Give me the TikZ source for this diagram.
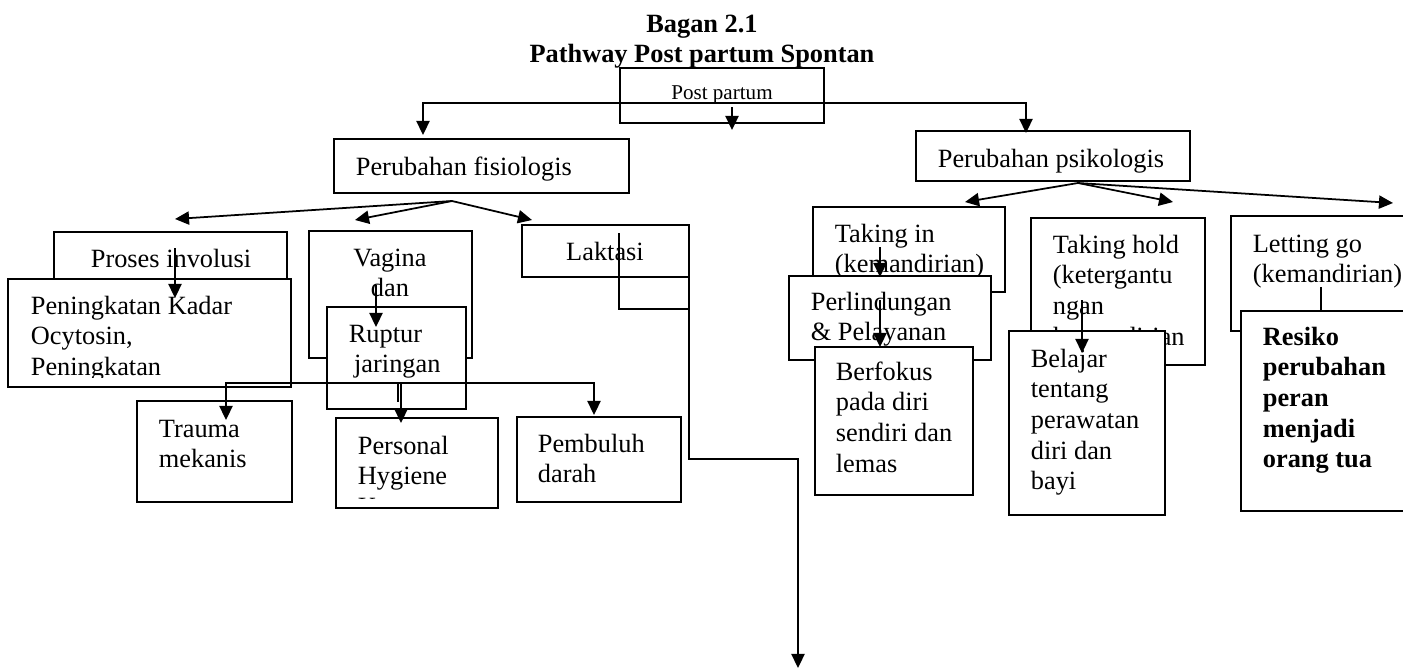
\documentclass[tikz,border=0pt]{standalone}
\usepackage{fontspec}
\setmainfont{Liberation Serif}
\usetikzlibrary{arrows.meta,fit}
\tikzset{
	kotak/.style={draw,fill=white,inner sep=0pt},
	teks/.style={anchor=base west,inner sep=0pt,align=left,font=\fontsize{15}{17.5}\selectfont},
	turun/.style={yshift=-#1*17.5pt},
}
\begin{document}
\begin{tikzpicture}[x=0.02cm,y=-0.02cm,line width=1pt,>={Triangle[length=8pt,width=7.5pt]}]
		\useasboundingbox (0,0) rectangle (1403,670);
		\node[teks,turun=1,anchor=base,align=center,font=\bfseries\fontsize{15}{17.5}\selectfont] (judul) at (702,32) {Bagan 2.1\\Pathway Post partum Spontan};
		\node[draw,inner sep=0pt,fit={(620,68)(824,123)}] (pp) {};
		\node[inner sep=0pt,anchor=base,font=\fontsize{12}{14}\selectfont] (ppT) at (722,99) {Post partum};
		\node[kotak,fit={(334,139)(629,193)}] (fis) {};
		\node[teks] (fisT) at (355,175) {Perubahan fisiologis};
		\node[kotak,fit={(916,131)(1190,181)}] (psi) {};
		\node[teks] (psiT) at (937,167) {Perubahan psikologis};
		\node[kotak,fit={(54,232)(287,300)}] (inv) {};
		\node[teks] (invT) at (90,267) {Proses involusi};
		\node[kotak,fit={(8,279)(291,387)}] (pen) {};
		\begin{scope}
			\clip (8,279) rectangle (291,377);
			\node[teks,turun=2] (penT) at (30,314) {Peningkatan Kadar\\Ocytosin,\\Peningkatan};
		\end{scope}
		\node[kotak,fit={(309,231)(472,358)}] (vag) {};
		\node[teks,turun=2,anchor=base,align=center] (vagT) at (390,266) {Vagina\\dan\\perineum};
		\node[kotak,fit={(327,307)(466,409)}] (rup) {};
		\node[teks,turun=1] (rupT) at (348,342) {Ruptur\\\hspace*{3pt}jaringan};
		\node[kotak,fit={(137,401)(292,502)}] (tra) {};
		\node[teks,turun=1] (traT) at (158,437) {Trauma\\mekanis};
		\node[kotak,fit={(336,418)(498,508)}] (per) {};
		\begin{scope}
			\clip (336,418) rectangle (498,498);
			\node[teks,turun=2] (perT) at (357,454) {Personal\\Hygiene\\Kurang};
		\end{scope}
		\node[kotak,fit={(517,417)(681,502)}] (pem) {};
		\node[teks,turun=1] (pemT) at (537,452) {Pembuluh\\darah};
		\node[kotak,fit={(522,225)(689,277)}] (lak) {};
		\node[teks,anchor=base] (lakT) at (605,260) {Laktasi};
		\node[kotak,fit={(813,207)(1005,292)}] (tin) {};
		\node[teks,turun=1] (tinT) at (834,242) {Taking in\\(kemandirian)};
		\node[kotak,fit={(789,276)(991,360)}] (lin) {};
		\node[teks,turun=1] (linT) at (810,310) {Perlindungan\\\& Pelayanan};
		\node[kotak,fit={(815,347)(973,495)}] (fok) {};
		\node[teks,turun=3] (fokT) at (835,380) {Berfokus\\pada diri\\sendiri dan\\lemas};
		\node[kotak,fit={(1031,218)(1205,365)}] (thd) {};
		\node[teks,turun=3] (thdT) at (1052,253) {Taking hold\\(ketergantu\\ngan\\kemandirian};
		\node[kotak,fit={(1009,331)(1165,515)}] (bel) {};
		\node[teks,turun=4] (belT) at (1030,367) {Belajar\\tentang\\perawatan\\diri dan\\bayi};
		\node[kotak,fit={(1231,216)(1410,331)}] (lgo) {};
		\node[teks,turun=1] (lgoT) at (1252,252) {Letting go\\(kemandirian)};
		\node[kotak,fit={(1241,311)(1410,511)}] (res) {};
		\node[teks,turun=4,font=\bfseries\fontsize{15}{17.5}\selectfont] (resT) at (1262,345) {Resiko\\perubahan\\peran\\menjadi\\orang tua};
		\coordinate (ppL) at (423,103);
		\coordinate (ppR) at (1026,103);
		\coordinate (fisA) at (423,135);
		\coordinate (psiA) at (1026,133);
		\coordinate (ppB) at (732,107);
		\coordinate (ppC) at (732,130);
		\coordinate (fisJ) at (452,201);
		\coordinate (invA) at (175,219);
		\coordinate (vagA) at (355,220);
		\coordinate (lakA) at (532,220);
		\coordinate (psiJ) at (1078,183);
		\coordinate (tinA) at (965,202);
		\coordinate (thdA) at (1173,202);
		\coordinate (lgoA) at (1393,203);
		\coordinate (invB) at (175,248);
		\coordinate (penA) at (175,298);
		\coordinate (vagB) at (376,285);
		\coordinate (rupA) at (376,327);
		\coordinate (garL) at (226,383);
		\coordinate (garR) at (594,383);
		\coordinate (garM) at (401,383);
		\coordinate (garT) at (398,383);
		\coordinate (traA) at (226,420);
		\coordinate (perA) at (401,423);
		\coordinate (pemA) at (594,415);
		\coordinate (lakB) at (619,233);
		\coordinate (lakC) at (619,309);
		\coordinate (lakD) at (689,309);
		\coordinate (lakE) at (689,244);
		\coordinate (lakF) at (689,459);
		\coordinate (lakG) at (798,459);
		\coordinate (lakH) at (798,668);
		\coordinate (tinB) at (880,247);
		\coordinate (linA) at (880,277);
		\coordinate (linB) at (880,300);
		\coordinate (fokA) at (880,347);
		\coordinate (thdB) at (1082,300);
		\coordinate (belA) at (1082,353);
		\coordinate (lgoB) at (1321,287);
		\coordinate (resA) at (1321,311);
		\draw[<->] (fisA)--(ppL)--(ppR)--(psiA);
		\draw[->] (ppB)--(ppC);
		\foreach \i in {invA,vagA,lakA}{\draw[->] (fisJ)--(\i);}
		\foreach \i in {tinA,thdA,lgoA}{\draw[->] (psiJ)--(\i);}
		\foreach \i/\g in {invB/penA,vagB/rupA,garM/perA,tinB/linA,linB/fokA,thdB/belA}{\draw[->] (\i)--(\g);}
		\draw[<->] (traA)--(garL)--(garR)--(pemA);
		\draw (garT)--++(0,19) (lgoB)--(resA);
		\draw[line width=0.6pt] (lakB)--(lakC)--(lakD);
		\draw[->] (lakE)--(lakF)--(lakG)--(lakH);
		\end{tikzpicture}
\end{document}
